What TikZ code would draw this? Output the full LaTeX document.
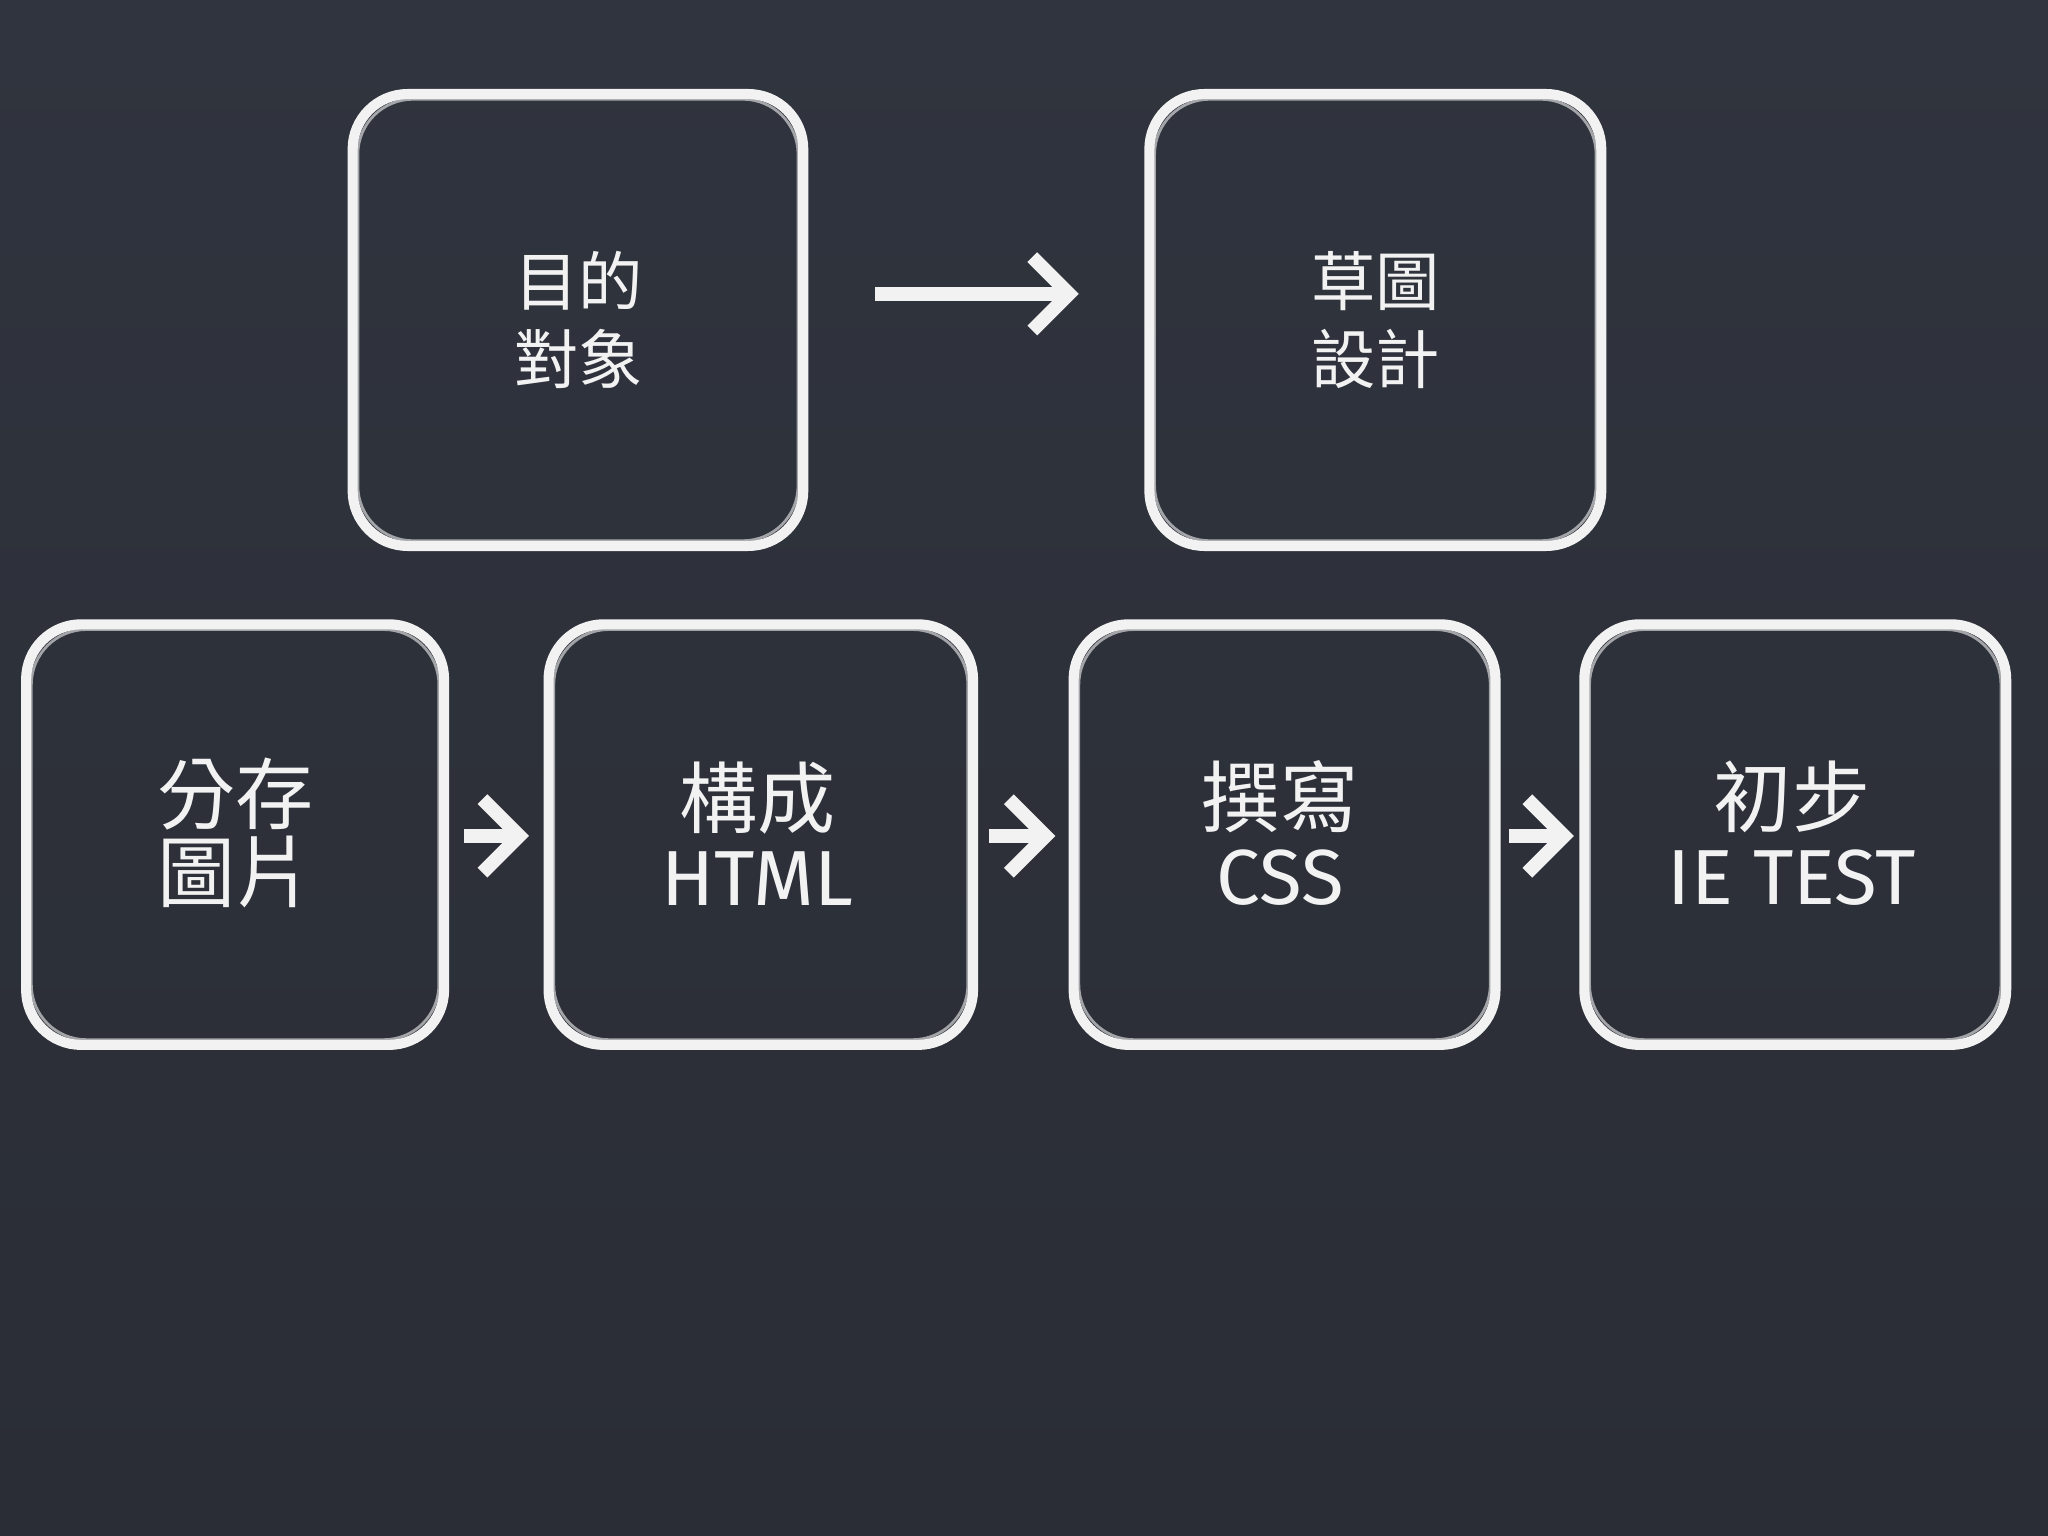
\documentclass[tikz,border=0pt]{standalone}
\usepackage{fontspec}
\setmainfont{Fira Sans}
\newfontfamily\cjk{Noto Sans CJK TC}
\usetikzlibrary{arrows.meta}
\definecolor{board}{HTML}{30343E}
\definecolor{boarddark}{HTML}{2A2D35}
\definecolor{chalk}{HTML}{F2F2F2}
\tikzset{
  chalkbox/.style={draw=chalk, line width=2.2pt, rounded corners=12pt},
  innerline/.style={draw=chalk, line width=0.6pt, rounded corners=12pt, opacity=0.6},
  lbl/.style={text=chalk, align=center, font=\cjk\fontsize{14}{17}\selectfont},
  chalkarrow/.style={draw=chalk, line width=3pt, -{Straight Barb[length=8pt,width=16pt]}}
}
\begin{document}
\begin{tikzpicture}[x=0.01cm,y=-0.01cm]
\useasboundingbox (0,0) rectangle (1568,1176);
\shade[top color=board, bottom color=boarddark] (0,0) rectangle (1568,1176);
% boxes
\draw[chalkbox] (270,72) rectangle (615,418);
\draw[innerline] (274,76) rectangle (611,414);
\draw[chalkbox] (880,72) rectangle (1226,418);
\draw[innerline] (884,76) rectangle (1222,414);
\draw[chalkbox] (20,478) rectangle (340,800);
\draw[innerline] (24,482) rectangle (336,796);
\draw[chalkbox] (420,478) rectangle (745,800);
\draw[innerline] (424,482) rectangle (741,796);
\draw[chalkbox] (822,478) rectangle (1145,800);
\draw[innerline] (826,482) rectangle (1141,796);
\draw[chalkbox] (1213,478) rectangle (1536,800);
\draw[innerline] (1217,482) rectangle (1532,796);
% labels
\node[lbl] (t1) at (443,245) {目的\\對象};
\node[lbl] (t2) at (1053,245) {草圖\\設計};
\node[lbl] (b1) at (180,638) {\fontsize{17}{21}\selectfont 分存\\\fontsize{17}{21}\selectfont 圖片};
\node[lbl] (b2) at (580,638) {\fontsize{17}{21}\selectfont 構成\\\fontsize{17}{21}\selectfont\rmfamily HTML};
\node[lbl] (b3) at (980,638) {\fontsize{17}{21}\selectfont 撰寫\\\fontsize{17}{21}\selectfont\rmfamily CSS};
\node[lbl] (b4) at (1372,638) {\fontsize{17}{21}\selectfont 初步\\\fontsize{17}{21}\selectfont\rmfamily IE TEST};
% arrows
\coordinate (a1s) at (670,225); \coordinate (a1e) at (826,225);
\draw[chalkarrow] (a1s) -- (a1e);
\coordinate (a2s) at (355,640); \coordinate (a2e) at (405,640);
\draw[chalkarrow] (a2s) -- (a2e);
\coordinate (a3s) at (757,640); \coordinate (a3e) at (808,640);
\draw[chalkarrow] (a3s) -- (a3e);
\coordinate (a4s) at (1155,640); \coordinate (a4e) at (1205,640);
\draw[chalkarrow] (a4s) -- (a4e);
\end{tikzpicture}
\end{document}
